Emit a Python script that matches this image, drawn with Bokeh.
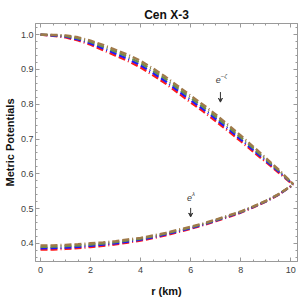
from bokeh.plotting import figure
from bokeh.models import (Range1d, LinearAxis, SingleIntervalTicker, Label,
                          Arrow, VeeHead, ColumnDataSource, NumeralTickFormatter)
from bokeh.embed import file_html
from bokeh.resources import INLINE

# ---------------- data ----------------
r = [0, 0.5, 1, 1.5, 2, 2.5, 3, 3.5, 4, 4.5, 5, 5.5, 6, 6.5, 7, 7.5, 8, 8.5,
     9, 9.5, 10, 10.1]

# upper family: e^{-zeta}
up_red = [1.0, 0.9965, 0.992, 0.9835, 0.971, 0.9555, 0.9398, 0.924, 0.9053,
          0.8833, 0.8593, 0.8323, 0.8053, 0.7793, 0.7513, 0.723, 0.6938,
          0.6635, 0.634, 0.6045, 0.5745, 0.570]
up_blue = [1.0, 0.9975, 0.994, 0.9865, 0.975, 0.9605, 0.9453, 0.930, 0.9118,
           0.8898, 0.8658, 0.8388, 0.8118, 0.7858, 0.7578, 0.729, 0.6993,
           0.6685, 0.638, 0.6075, 0.5755, 0.570]
up_green = [1.0, 0.9985, 0.996, 0.9895, 0.979, 0.9655, 0.9508, 0.936, 0.9183,
            0.8963, 0.8723, 0.8453, 0.8183, 0.7923, 0.7643, 0.735, 0.7048,
            0.6735, 0.642, 0.6105, 0.5765, 0.570]
up_brown = [1.0, 0.9995, 0.998, 0.9925, 0.983, 0.9705, 0.9563, 0.942, 0.9248,
            0.9028, 0.8788, 0.8518, 0.8248, 0.7988, 0.7708, 0.741, 0.7103,
            0.6785, 0.646, 0.6135, 0.5775, 0.570]

# lower family: e^{lambda}
lo_red = [0.382, 0.3825, 0.384, 0.3863, 0.3896, 0.3929, 0.3972, 0.4025, 0.4078,
          0.4151, 0.4234, 0.4327, 0.442, 0.4523, 0.4636, 0.4759, 0.4882,
          0.5035, 0.5198, 0.5391, 0.5637, 0.570]
lo_blue = [0.386, 0.3865, 0.388, 0.3901, 0.3932, 0.3963, 0.4004, 0.4055, 0.4106,
           0.4177, 0.4258, 0.4349, 0.444, 0.4541, 0.4652, 0.4773, 0.4894,
           0.5045, 0.5206, 0.5397, 0.5639, 0.570]
lo_green = [0.390, 0.3905, 0.392, 0.3939, 0.3968, 0.3997, 0.4036, 0.4085, 0.4134,
            0.4203, 0.4282, 0.4371, 0.446, 0.4559, 0.4668, 0.4787, 0.4906,
            0.5055, 0.5214, 0.5403, 0.5641, 0.570]
lo_brown = [0.394, 0.3945, 0.396, 0.3977, 0.4004, 0.4031, 0.4068, 0.4115, 0.4162,
            0.4229, 0.4306, 0.4393, 0.448, 0.4577, 0.4684, 0.4801, 0.4918,
            0.5065, 0.5222, 0.5409, 0.5643, 0.570]

colors = {"red": "#ff1a1a", "blue": "#1a1aff", "green": "#6b8e4e", "brown": "#a07a4a"}

FONT = "Liberation Sans"
GRAY = "#9a9a9a"
TXT = "#404040"

p = figure(width=300, height=300, output_backend="svg", toolbar_location=None,
           x_range=Range1d(-0.2, 10.27), y_range=Range1d(0.348, 1.032),
           min_border_left=29, min_border_right=3, min_border_top=23,
           min_border_bottom=39, x_axis_location=None, y_axis_location=None)
p.grid.visible = False
p.outline_line_color = GRAY
p.background_fill_color = "white"
p.border_fill_color = "white"

p.title.text = "Cen X-3"
p.title.text_font = FONT
p.title.text_font_size = "12px"
p.title.text_font_style = "bold"
p.title.align = "center"
p.title.standoff = 3
p.title.text_color = "#111111"


def make_axis(interval, minor, label=None, show_labels=True):
    ax = LinearAxis(ticker=SingleIntervalTicker(interval=interval, num_minor_ticks=minor))
    ax.axis_line_color = GRAY
    ax.major_tick_line_color = GRAY
    ax.minor_tick_line_color = GRAY
    ax.major_tick_in = 4
    ax.major_tick_out = 0
    ax.minor_tick_in = 2
    ax.minor_tick_out = 0
    ax.major_label_text_font = FONT
    if show_labels:
        ax.major_label_text_font_size = "9px"
        ax.major_label_text_color = TXT
    else:
        ax.major_label_text_font_size = "0px"
        ax.major_label_text_color = None
    ax.major_label_standoff = 3
    if label:
        ax.axis_label = label
        ax.axis_label_text_font = FONT
        ax.axis_label_text_font_size = "11px"
        ax.axis_label_text_font_style = "bold"
        ax.axis_label_text_color = "#111111"
        ax.axis_label_standoff = 4
    return ax


xb = make_axis(2, 4, "r (km)")
xb.major_label_standoff = 5
xb.axis_label_standoff = 9
p.add_layout(xb, "below")
yl = make_axis(0.1, 5, "Metric Potentials")
yl.formatter = NumeralTickFormatter(format="0.0")
yl.major_label_standoff = 2
yl.axis_label_standoff = 2
p.add_layout(yl, "left")
p.add_layout(make_axis(2, 4, show_labels=False), "above")
p.add_layout(make_axis(0.1, 5, show_labels=False), "right")

dash = "7 3 7 3 1 3"
for name, up, lo in [("red", up_red, lo_red), ("blue", up_blue, lo_blue),
                     ("green", up_green, lo_green), ("brown", up_brown, lo_brown)]:
    src = ColumnDataSource(dict(r=r, up=up, lo=lo))
    p.line("r", "up", source=src, line_color=colors[name], line_width=2.3,
           line_dash=dash)
    p.line("r", "lo", source=src, line_color=colors[name], line_width=2.3,
           line_dash=dash)

# annotations
p.add_layout(Label(x=7.0, y=0.862, text="e", text_font=FONT, text_font_size="9px",
                   text_color=TXT, text_font_style="italic"))
p.add_layout(Label(x=7.0, y=0.862, x_offset=5, y_offset=4, text="\u2212\u03b6",
                   text_font=FONT, text_font_size="6px", text_color=TXT,
                   text_font_style="italic"))
p.add_layout(Arrow(end=VeeHead(size=4, line_color="#333333", fill_color="#333333"),
                   x_start=7.19, y_start=0.835, x_end=7.19, y_end=0.806,
                   line_color="#333333", line_width=1))

p.add_layout(Label(x=5.85, y=0.523, text="e", text_font=FONT, text_font_size="9px",
                   text_color=TXT, text_font_style="italic"))
p.add_layout(Label(x=5.85, y=0.523, x_offset=5, y_offset=4, text="\u03bb",
                   text_font=FONT, text_font_size="6px", text_color=TXT,
                   text_font_style="italic"))
p.add_layout(Arrow(end=VeeHead(size=4, line_color="#333333", fill_color="#333333"),
                   x_start=6.0, y_start=0.502, x_end=6.0, y_end=0.476,
                   line_color="#333333", line_width=1))

open("out.html", "w").write(file_html(p, INLINE))
